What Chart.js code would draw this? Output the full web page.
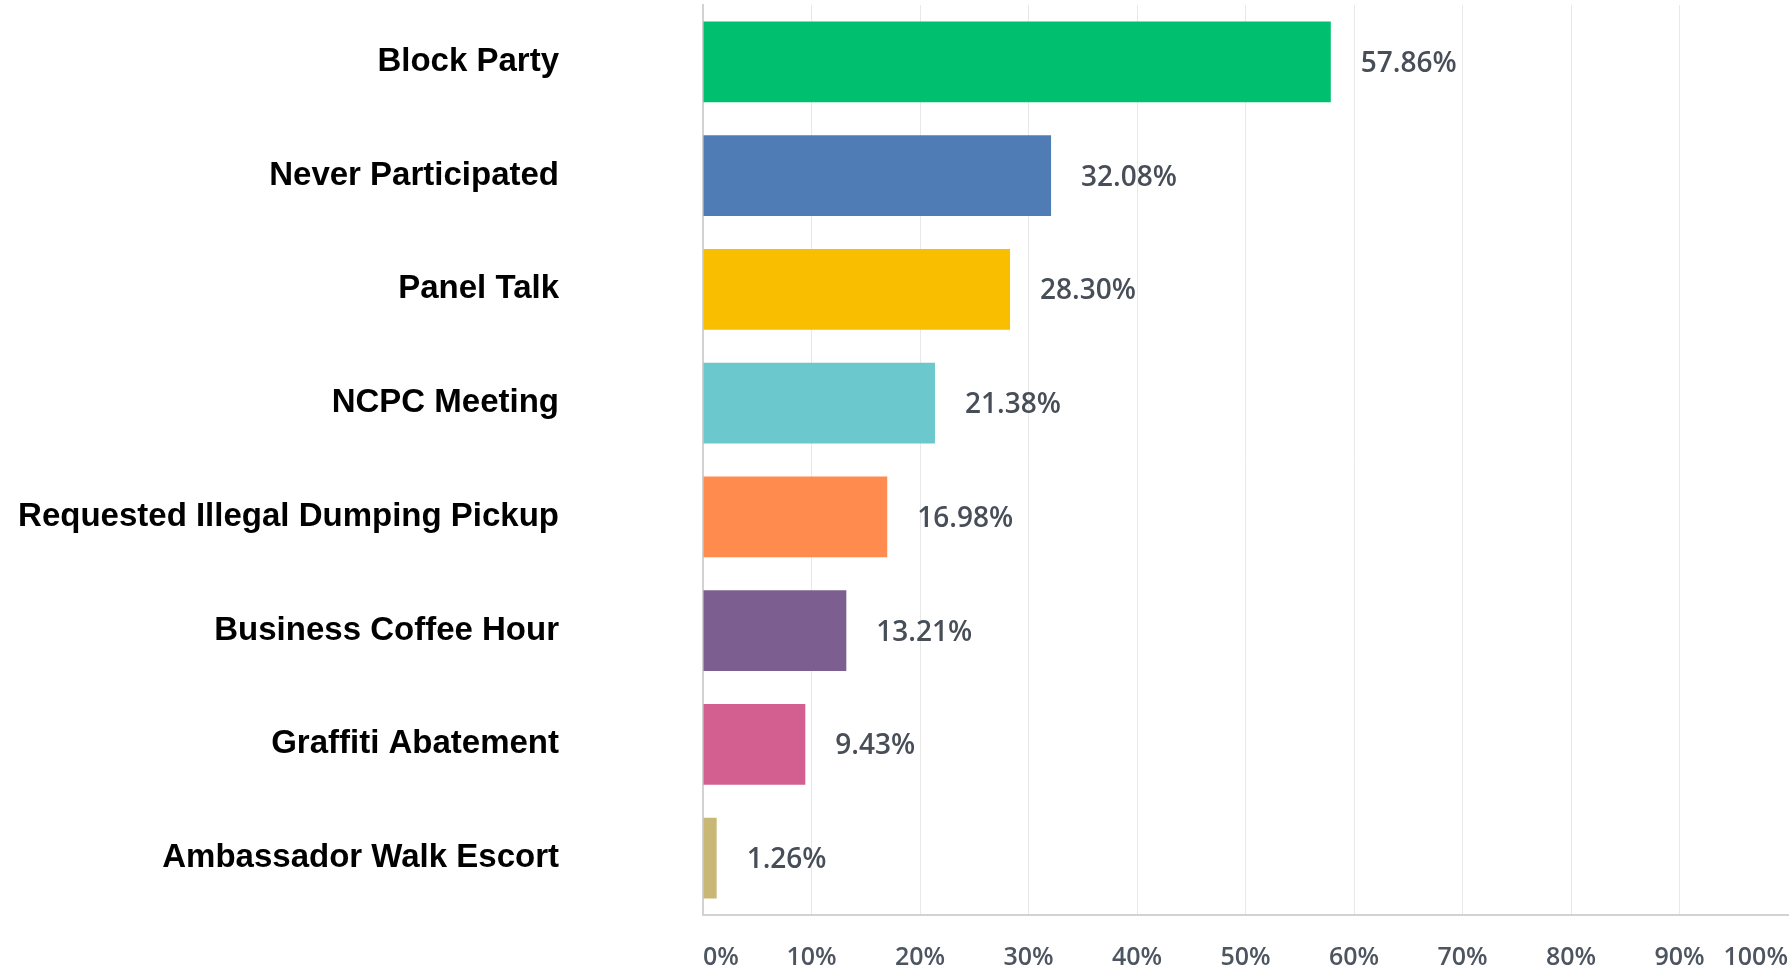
<!DOCTYPE html>
<html>
<head>
<meta charset="utf-8">
<script src="https://cdn.jsdelivr.net/npm/chart.js@4/dist/chart.umd.min.js"></script>
<style>
  html, body { margin: 0; padding: 0; background: #ffffff; overflow: hidden; }
  canvas { display: block; }
</style>
</head>
<body>
<canvas id="chart" width="1790" height="971"></canvas>
<script>
"use strict";

const categories = [
  'Block Party',
  'Never Participated',
  'Panel Talk',
  'NCPC Meeting',
  'Requested Illegal Dumping Pickup',
  'Business Coffee Hour',
  'Graffiti Abatement',
  'Ambassador Walk Escort'
];

const percentages = [57.86, 32.08, 28.30, 21.38, 16.98, 13.21, 9.43, 1.26];

const barColors = [
  '#00BF6F', '#507CB6', '#F9BE00', '#6BC8CD',
  '#FF8B4F', '#7D5E90', '#D25F90', '#C9B875'
];

const xTickValues = [0, 10, 20, 30, 40, 50, 60, 70, 80, 90, 100];

// value labels to the right of each bar
const valueLabels = {
  id: 'valueLabels',
  afterDatasetsDraw(chart) {
    const ctx = chart.ctx;
    const meta = chart.getDatasetMeta(0);
    ctx.save();
    ctx.font = '600 28px "Open Sans"';
    ctx.fillStyle = '#474e58';
    ctx.textAlign = 'left';
    ctx.textBaseline = 'middle';
    meta.data.forEach((bar, i) => {
      ctx.fillText(percentages[i].toFixed(2) + '%', bar.x + 30, bar.y + 2);
    });
    ctx.restore();
  }
};

(() => {
  const canvas = document.getElementById('chart');

  new Chart(canvas, {
    type: 'bar',
    data: {
      labels: categories,
      datasets: [{
        data: percentages,
        backgroundColor: barColors,
        borderWidth: 0,
        barPercentage: 0.9,
        categoryPercentage: 0.79
      }]
    },
    options: {
      indexAxis: 'y',
      responsive: false,
      maintainAspectRatio: false,
      devicePixelRatio: 1,
      animation: false,
      layout: {
        padding: { top: 5, right: 2, left: 0, bottom: 0 }
      },
      plugins: {
        legend: { display: false },
        tooltip: { enabled: false }
      },
      scales: {
        x: {
          min: 0,
          max: 100,
          afterBuildTicks(scale) {
            scale.ticks = xTickValues.map(v => ({ value: v }));
          },
          afterFit(scale) {
            scale.height = 56;
            scale.paddingLeft = 0;
            scale.paddingRight = 0;
          },
          grid: {
            color: ctx => (ctx.tick && ctx.tick.value === 100) ? 'rgba(0,0,0,0)' : '#e8e8e8',
            lineWidth: 1,
            drawTicks: false
          },
          border: {
            display: true,
            color: '#d2d2d2',
            width: 2
          },
          ticks: {
            align: 'inner',
            padding: 28,
            maxRotation: 0,
            autoSkip: false,
            color: '#4d5560',
            font: { family: '"Open Sans"', size: 25, weight: '600' },
            callback: v => v + '%'
          }
        },
        y: {
          afterFit(scale) {
            scale.width = 703;
            scale.paddingTop = 0;
            scale.paddingBottom = 0;
          },
          grid: {
            display: false,
            drawTicks: false
          },
          border: {
            display: true,
            color: '#d2d2d2',
            width: 2
          },
          ticks: {
            padding: 144,
            color: '#000000',
            font: { family: '"Liberation Sans", Arial, sans-serif', size: 33, weight: 'bold' }
          }
        }
      }
    },
    plugins: [valueLabels]
  });
})();
</script>
</body>
</html>
